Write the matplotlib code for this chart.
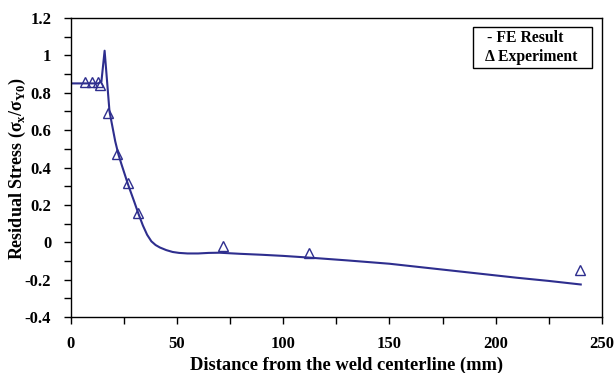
import matplotlib
matplotlib.use("Agg")
import matplotlib.pyplot as plt
from matplotlib.ticker import MultipleLocator
from matplotlib.patches import Rectangle

# FE result curve
fe_x = [0, 13, 14.5, 16, 18.3, 21, 22.5, 24, 27, 30, 32, 34, 36, 38, 40, 42,
        45, 48, 51, 55, 60, 65, 70, 80, 90, 100, 112, 130, 150, 170, 190,
        210, 225, 240]
fe_y = [0.85, 0.85, 0.86, 1.025, 0.70, 0.54, 0.47, 0.415, 0.31, 0.215, 0.15,
        0.09, 0.04, 0.005, -0.015, -0.028, -0.042, -0.052, -0.057, -0.06,
        -0.06, -0.057, -0.056, -0.062, -0.067, -0.073, -0.082, -0.097,
        -0.115, -0.14, -0.165, -0.19, -0.207, -0.226]

# Experiment points
exp_x = [6.8, 10, 12.9, 13.8, 17.8, 21.7, 26.9, 31.9, 71.9, 112, 239.8]
exp_y = [0.855, 0.855, 0.86, 0.84, 0.69, 0.471, 0.315, 0.155, -0.02, -0.055, -0.15]

xticks = [0, 50, 100, 150, 200, 250]
xtick_labels = ['0', '50', '100', '150', '200', '250']
yticks = [-0.4, -0.2, 0, 0.2, 0.4, 0.6, 0.8, 1.0, 1.2]
ytick_labels = ['-0.4', '-0.2', '0', '0.2', '0.4', '0.6', '0.8', '1', '1.2']

plt.rcParams['font.family'] = ['Liberation Serif', 'DejaVu Serif']
plt.rcParams['font.weight'] = 'bold'

blue = '#2E2E8E'
W, H = 615, 373

fig = plt.figure(figsize=(6.15, 3.73), dpi=100)
ax = fig.add_axes([70.6 / W, 1 - 317 / H, 531.4 / W, 299 / H])

ax.plot(fe_x, fe_y, color=blue, lw=1.5)
ax.plot(exp_x, exp_y, linestyle='none', marker='^', markersize=7,
        markerfacecolor='none', markeredgecolor=blue, markeredgewidth=1.0)

ax.set_xlim(0, 250)
ax.set_ylim(-0.4, 1.2)
ax.set_xticks(xticks)
ax.set_xticklabels(xtick_labels, fontweight='bold', fontsize=12)
ax.set_yticks(yticks)
ax.set_yticklabels(ytick_labels, fontweight='bold', fontsize=12)
ax.xaxis.set_minor_locator(MultipleLocator(25))
ax.yaxis.set_minor_locator(MultipleLocator(0.1))
ax.tick_params(axis='both', which='both', direction='out')
ax.tick_params(which='both', length=5, width=1)
ax.tick_params(axis='x', which='major', pad=9)
ax.tick_params(axis='y', which='major', pad=9)

for s in ax.spines.values():
    s.set_linewidth(1.0)

ax.set_xlabel('Distance from the weld centerline (mm)', fontsize=13.3,
              fontweight='bold')
ax.xaxis.set_label_coords(0.52, -0.132)
ax.set_ylabel('Residual Stress (σ$_\\mathregular{x}$/σ$_\\mathregular{Y0}$)',
              fontsize=13, fontweight='bold')
ax.yaxis.set_label_coords(-0.081, 0.495)

# legend box drawn as text in a frame
fig.patches.append(Rectangle((473 / W, 1 - 68 / H), 119 / W, 41 / H,
                             transform=fig.transFigure, facecolor='white',
                             edgecolor='black', linewidth=1.0, zorder=5))
fig.text(486.7 / W, 1 - 41.7 / H, '- FE Result', ha='left', va='baseline',
         fontsize=11.3, fontweight='bold', zorder=6)
fig.text(485 / W, 1 - 61 / H, 'Δ Experiment', ha='left', va='baseline',
         fontsize=11.3, fontweight='bold', zorder=6)

fig.savefig('out.png', dpi=100)
